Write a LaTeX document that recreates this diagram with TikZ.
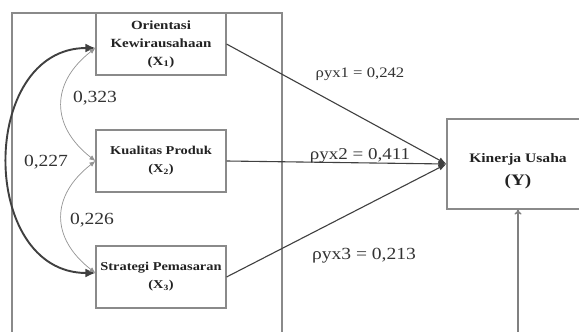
\documentclass[tikz,border=0pt]{standalone}
\usepackage{fontspec}
\setmainfont{Liberation Serif}
\newfontfamily\strf[FakeStretch=1.2]{Liberation Serif}
\newfontfamily\strg[FakeStretch=1.15]{Liberation Serif}
\usetikzlibrary{arrows.meta}
\definecolor{boxgray}{HTML}{8A8A8A}
\definecolor{txt}{HTML}{222222}
\definecolor{lbl}{HTML}{333333}
\definecolor{arr}{HTML}{404040}
\begin{document}
\begin{tikzpicture}[x=1pt,y=-1pt,
  box/.style={draw=boxgray, line width=1.1pt, minimum width=130pt, minimum height=62pt,
    inner sep=0pt, align=center, text=txt},
  boxfont/.style={font=\strf\bfseries\fontsize{#1}{18}\selectfont},
  num/.style={text=lbl, inner sep=0pt, font=\strg\fontsize{#1}{#1}\selectfont},
  patharrow/.style={draw=arr, line width=1.1pt, -{Latex[length=8pt,width=6pt]}},
  corrthick/.style={draw=arr, line width=1.9pt, {Latex[length=10pt,width=9pt]}-{Latex[length=10pt,width=9pt]}},
  corrthin/.style={draw=gray!85, line width=0.7pt, {Latex[length=6pt,width=5pt]}-{Latex[length=6pt,width=5pt]}},
  frame/.style={draw=boxgray, line width=1.1pt}]
\useasboundingbox (0,0) rectangle (579,332);
\fill[white] (0,0) rectangle (579,332);
% outer frame
\draw[frame] (12,345) -- (12,13) -- (282,13) -- (282,345);
% boxes
\node[box, boxfont=12.5] (x1) at (161,44) {Orientasi\\Kewirausahaan\\(X\textsubscript{1})};
\node[box, boxfont=12] (x2) at (161,161) {Kualitas Produk\\(X\textsubscript{2})};
\node[box, boxfont=12] (x3) at (161,277) {Strategi Pemasaran\\(X\textsubscript{3})};
\node[box, minimum width=142pt, minimum height=90pt, font=\strf\bfseries\fontsize{13}{23}\selectfont] (y) at (518,164)
  {\raisebox{-5pt}[\height][\depth]{\begin{tabular}{@{}c@{}}Kinerja Usaha\\{\fontsize{16}{23}\selectfont (Y)}\end{tabular}}};
% path arrows
\draw[patharrow] (x1.east) -- (y.west);
\draw[patharrow] (x2.east) -- (y.west);
\draw[patharrow] (x3.east) -- (y.west);
\coordinate (err) at (518,345);
\draw[draw=gray, line width=1.5pt, -{To[length=5pt,width=7pt]}] (err) -- (y.south);
% correlations
\coordinate (a1) at ([yshift=-4pt]x1.west);
\coordinate (a2) at (x2.west);
\coordinate (a3) at ([yshift=4pt]x3.west);
\draw[corrthick] (a1) .. controls +(-117,0) and +(-117,0) .. (a3);
\draw[corrthin] (a1) .. controls +(-45,35) and +(-45,-35) .. (a2);
\draw[corrthin] (a2) .. controls +(-45,35) and +(-45,-35) .. (a3);
% labels
\node[num=17] (l323) at (95,98) {0,323};
\node[num=17] (l227) at (46,162) {0,227};
\node[num=17] (l226) at (92,220) {0,226};
\node[num=14.5] (p1) at (360,74) {ρyx1 = 0,242};
\node[num=16.5] (p2) at (360,156) {ρyx2 = 0,411};
\node[num=17] (p3) at (364,256) {ρyx3 = 0,213};
\end{tikzpicture}
\end{document}
